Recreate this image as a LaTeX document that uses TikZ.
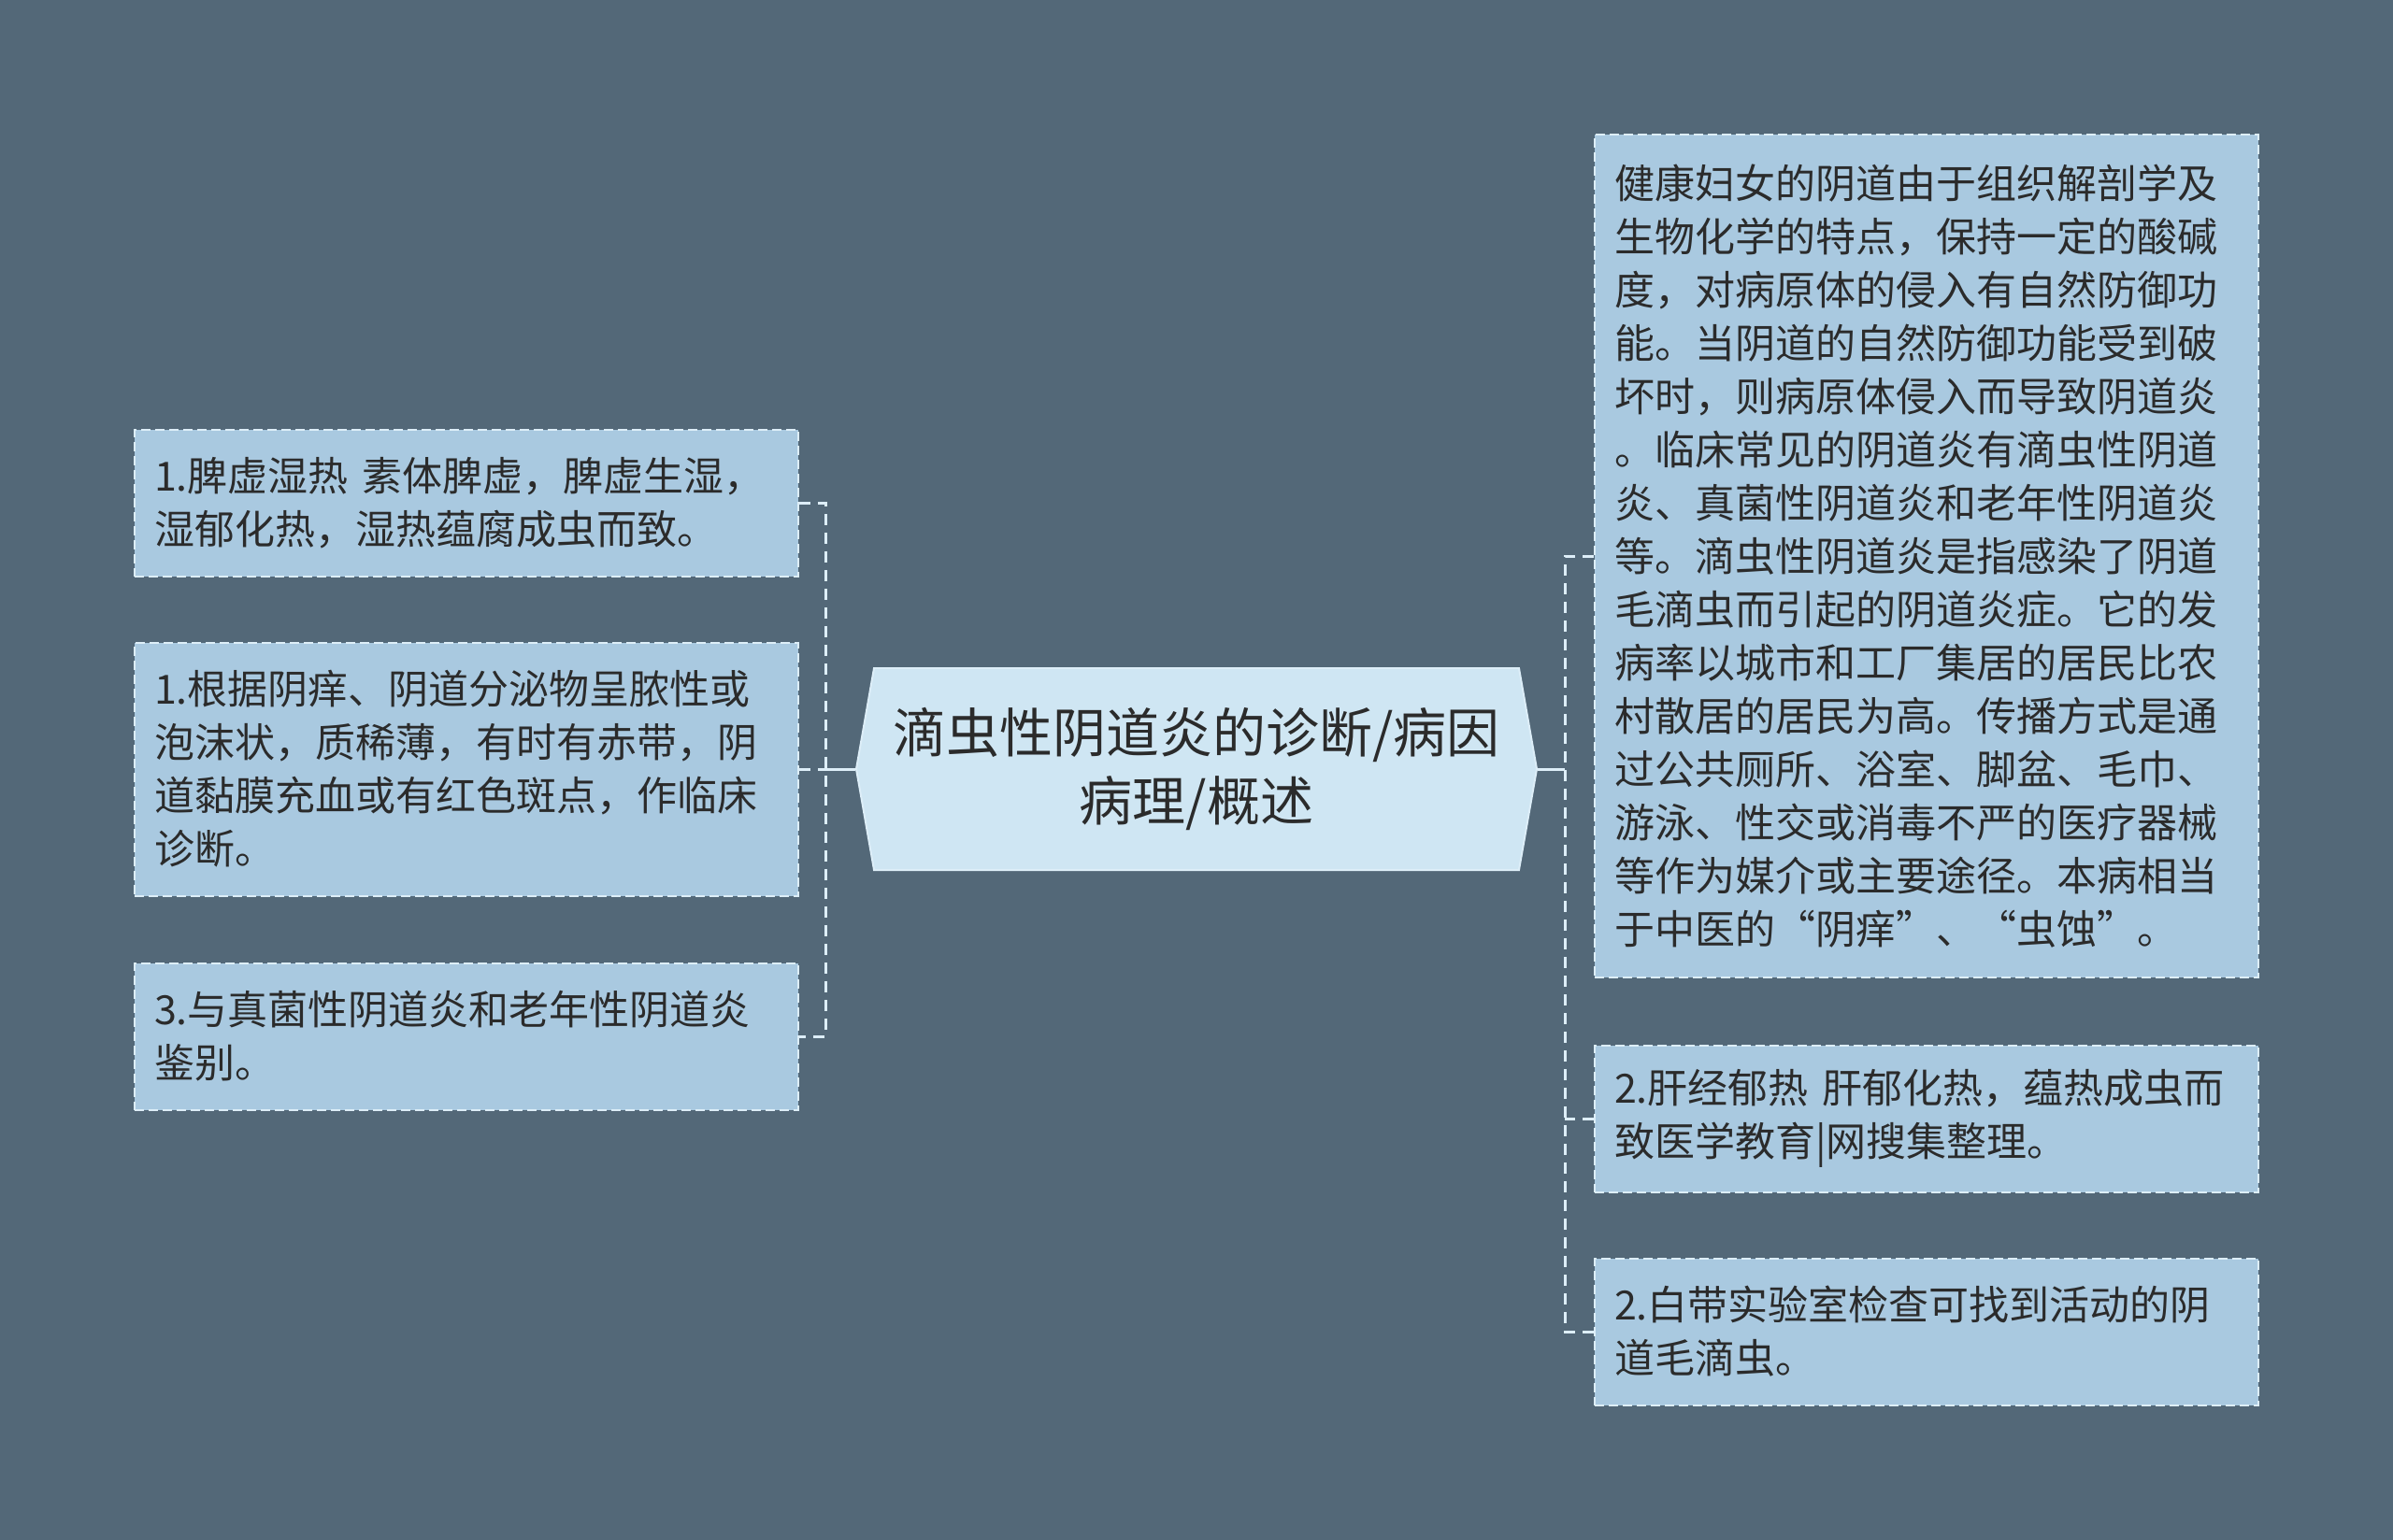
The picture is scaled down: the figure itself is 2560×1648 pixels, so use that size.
\documentclass[tikz,border=0pt]{standalone}
\usepackage{fontspec}
\setmainfont{Noto Sans CJK SC}
\usetikzlibrary{shapes.symbols}

\definecolor{bgslate}{HTML}{536878}
\definecolor{leafblue}{HTML}{A9C9E0}
\definecolor{rootblue}{HTML}{CFE6F3}
\definecolor{edgewhite}{HTML}{DDEEF8}
\definecolor{inkgray}{HTML}{2B2B2B}

\tikzset{
  leaf/.style={draw=edgewhite, fill=leafblue, line width=2pt, dash pattern=on 10pt off 5pt,
    text width=668pt, align=left, inner xsep=21pt, inner ysep=0pt, text=inkgray,
    font=\fontsize{43}{57}\selectfont},
  root/.style={shape=signal, signal to=west and east, signal pointer angle=160,
    draw=edgewhite, fill=rootblue, line width=2pt, minimum width=728pt,
    minimum height=216pt, align=center, text=inkgray, font=\fontsize{57}{73}\selectfont},
  link/.style={edgewhite, line width=3pt},
  dashlink/.style={edgewhite, line width=3pt, dash pattern=on 12pt off 8pt}
}

\begin{document}
\begin{tikzpicture}[x=1pt, y=-1pt]
  \fill[bgslate] (0,0) rectangle (2560,1648);
  % Root
  \node[root] at (1280, 823) (main) {滴虫性阴道炎的诊断/病因\\病理/概述};
  % Left branch
  \node[leaf, minimum height=157pt] at (499, 538) (l1)
    {1.脾虚湿热 素体脾虚，脾虚生湿，\\湿郁化热，湿热蕴腐成虫而致。};
  \node[leaf, minimum height=271pt] at (499, 823) (l2)
    {1.根据阴痒、阴道分泌物呈脓性或\\泡沫状，质稀薄，有时有赤带，阴\\道黏膜充血或有红色斑点，作临床\\诊断。};
  \node[leaf, minimum height=157pt] at (499, 1109) (l3)
    {3.与真菌性阴道炎和老年性阴道炎\\鉴别。};
  % Right branch
  \node[leaf, minimum height=901pt] at (2061, 595) (r1)
    {健康妇女的阴道由于组织解剖学及\\生物化学的特点，保持一定的酸碱\\度，对病原体的侵入有自然防御功\\能。当阴道的自然防御功能受到破\\坏时，则病原体侵入而导致阴道炎\\。临床常见的阴道炎有滴虫性阴道\\炎、真菌性阴道炎和老年性阴道炎\\等。滴虫性阴道炎是指感染了阴道\\毛滴虫而引起的阴道炎症。它的发\\病率以城市和工厂集居的居民比农\\村散居的居民为高。传播方式是通\\过公共厕所、浴室、脚盆、毛巾、\\游泳、性交或消毒不严的医疗器械\\等作为媒介或主要途径。本病相当\\于中医的“阴痒”、“虫蚀”。};
  \node[leaf, minimum height=157pt] at (2061, 1197) (r2)
    {2.肝经郁热 肝郁化热，蕴热成虫而\\致医学教育|网搜集整理。};
  \node[leaf, minimum height=157pt] at (2061, 1425) (r3)
    {2.白带实验室检查可找到活动的阴\\道毛滴虫。};
  % Connectors
  \coordinate (lbus) at (883, 823);
  \coordinate (rbus) at (1674, 823);
  \draw[link] (main.west) -- (lbus);
  \draw[dashlink] (l1.east) -- (l1.east -| lbus) -- (l3.east -| lbus) -- (l3.east);
  \draw[dashlink] (l2.east) -- (lbus);
  \draw[link] (main.east) -- (rbus);
  \draw[dashlink] (r1.west) -- (r1.west -| rbus) -- (r3.west -| rbus) -- (r3.west);
  \draw[dashlink] (r2.west) -- (r2.west -| rbus);
\end{tikzpicture}
\end{document}
